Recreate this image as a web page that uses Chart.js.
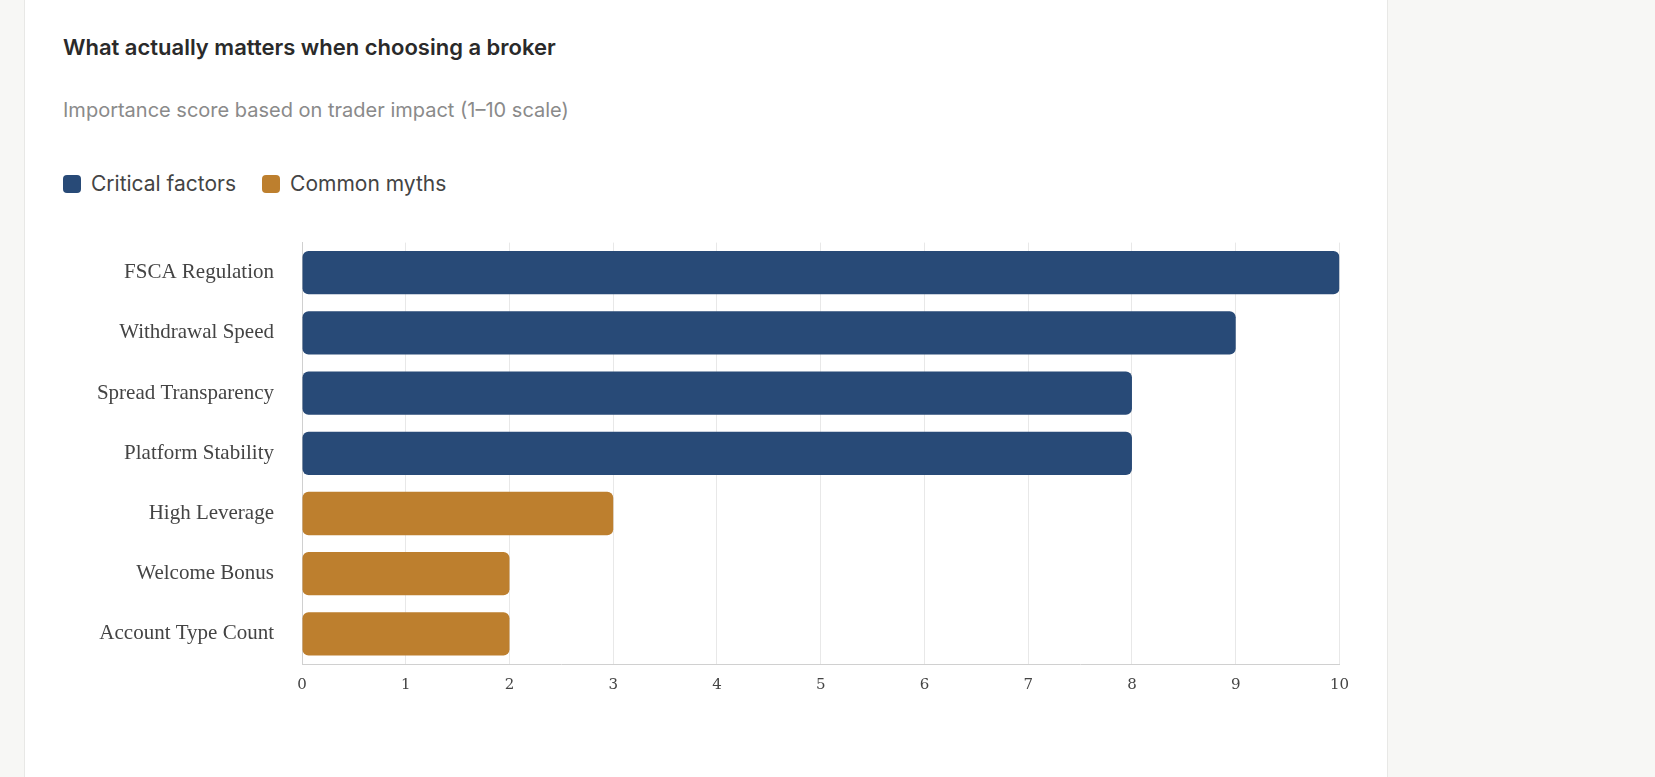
<!DOCTYPE html>
<html><head><meta charset="utf-8">
<script src="https://cdn.jsdelivr.net/npm/chart.js@4"></script>
<style>
body{margin:0;background:#f7f7f5;width:1655px;height:777px;overflow:hidden;font-family:Inter,"Noto Sans",sans-serif;}
.card{position:absolute;left:24px;top:-2px;width:1362px;height:800px;background:#fff;border-left:1px solid #e8e8e6;border-right:1px solid #e8e8e6;}
h1{position:absolute;left:38px;top:36px;margin:0;font-size:22px;font-weight:600;color:#2a2a2a;}
.sub{position:absolute;left:38px;top:100px;font-size:20px;color:#8a8a8a;}
.legend{position:absolute;left:38px;top:173px;font-size:21px;color:#444;display:flex;align-items:center;}
.sw{width:18px;height:18px;border-radius:4px;display:inline-block;margin-right:10px;}
.wrap{position:absolute;left:16px;top:212px;width:1320px;height:500px;}
</style></head><body>
<div class="card">
<h1>What actually matters when choosing a broker</h1>
<div class="sub">Importance score based on trader impact (1–10 scale)</div>
<div class="legend"><span class="sw" style="background:#284a77"></span>Critical factors<span class="sw" style="background:#bd7f2e;margin-left:26px"></span>Common myths</div>
<div class="wrap"><canvas id="grafico"></canvas></div>
</div>
<script>
const factores = [
  { nombre: "FSCA Regulation", valor: 10, tipo: "critico" },
  { nombre: "Withdrawal Speed", valor: 9, tipo: "critico" },
  { nombre: "Spread Transparency", valor: 8, tipo: "critico" },
  { nombre: "Platform Stability", valor: 8, tipo: "critico" },
  { nombre: "High Leverage", valor: 3, tipo: "mito" },
  { nombre: "Welcome Bonus", valor: 2, tipo: "mito" },
  { nombre: "Account Type Count", valor: 2, tipo: "mito" },
];
const colores = { critico: "#284a77", mito: "#bd7f2e" };
const ctx = document.getElementById("grafico").getContext("2d");
new Chart(ctx, {
  type: "bar",
  data: {
    labels: factores.map((f) => f.nombre),
    datasets: [{
      data: factores.map((f) => f.valor),
      backgroundColor: factores.map((f) => colores[f.tipo]),
      borderRadius: 6,
      borderSkipped: false,
      barPercentage: 0.72,
      categoryPercentage: 1,
    }],
  },
  options: {
    indexAxis: "y",
    responsive: true,
    maintainAspectRatio: false,
    animation: false,
    layout: { padding: { top: 0, right: 3 } },
    plugins: { legend: { display: false }, tooltip: { enabled: false } },
    scales: {
      x: {
        min: 0, max: 10,
        ticks: { stepSize: 1, color: "#444", font: { family: "DejaVu Serif", size: 15 }, padding: 12 },
        grid: { color: "#e8e8e8", drawTicks: false },
        border: { color: "#d0d0d0" },
        afterFit: (s) => { s.height = 46; },
      },
      y: {
        ticks: { color: "#444", font: { family: "Liberation Serif", size: 21 }, padding: 20 },
        grid: { display: false },
        border: { color: "#d0d0d0" },
        afterFit: (s) => { s.width = 261; },
      },
    },
  },
});
</script>
</body></html>
